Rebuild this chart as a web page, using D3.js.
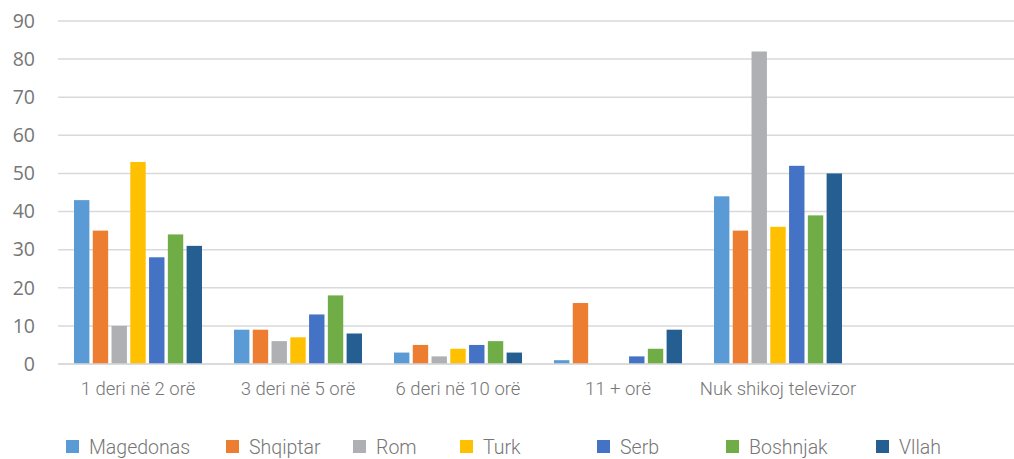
<!DOCTYPE html>
<html><head><meta charset="utf-8">
<script src="https://cdn.jsdelivr.net/npm/d3@7"></script>
<style>html,body{margin:0;padding:0;background:#fff;overflow:hidden}</style>
</head><body>
<svg id="c" width="1014" height="459"></svg>
<script>
const categories = ["1 deri në 2 orë", "3 deri në 5 orë", "6 deri në 10 orë", "11 + orë", "Nuk shikoj televizor", ""];
const seriesNames = ["Magedonas", "Shqiptar", "Rom", "Turk", "Serb", "Boshnjak", "Vllah"];
const magedonas = [43, 9, 3, 1, 44];
const shqiptar = [35, 9, 5, 16, 35];
const rom = [10, 6, 2, 0, 82];
const turk = [53, 7, 4, 0, 36];
const serb = [28, 13, 5, 2, 52];
const boshnjak = [34, 18, 6, 4, 39];
const vllah = [31, 8, 3, 9, 50];
const yTicks = [0, 10, 20, 30, 40, 50, 60, 70, 80, 90];

const seriesValues = [magedonas, shqiptar, rom, turk, serb, boshnjak, vllah];
const colors = ["#5B9BD5", "#ED7D31", "#AFB0B3", "#FFC000", "#4472C4", "#70AD47", "#255E91"];
const legendOffsets = [66, 226, 353, 460, 597, 726, 876];

const svg = d3.select("#c");
const x0 = d3.scaleBand().domain(categories).range([58, 1018]).paddingInner(0.2).paddingOuter(0.1);
const x1 = d3.scaleBand().domain(seriesNames).range([0, x0.bandwidth()]).paddingInner(0.18).paddingOuter(0);
const y = d3.scaleLinear().domain([0, 90]).range([364, 21]);

// gridlines
svg.append("g").selectAll("line").data(yTicks).join("line")
  .attr("x1", 58).attr("x2", 1014)
  .attr("y1", d => y(d)).attr("y2", d => y(d))
  .attr("stroke", "#d9d9d9").attr("stroke-width", 1.5);

// y labels
svg.append("g").selectAll("text").data(yTicks).join("text")
  .attr("x", 35).attr("y", d => y(d)).attr("dy", "0.35em")
  .attr("text-anchor", "end")
  .attr("font-family", "'Open Sans', sans-serif").attr("font-size", 19.5)
  .attr("fill", "#767676").text(d => d);

// bars
const data = [];
categories.forEach((c, ci) => {
  seriesNames.forEach((s, si) => {
    const v = seriesValues[si][ci];
    if (v !== undefined) data.push({c, s, v, color: colors[si]});
  });
});
svg.append("g").selectAll("rect").data(data).join("rect")
  .attr("x", d => x0(d.c) + x1(d.s))
  .attr("width", x1.bandwidth())
  .attr("y", d => y(d.v))
  .attr("height", d => y(0) - y(d.v))
  .attr("fill", d => d.color);

// baseline
svg.append("line").attr("x1", 58).attr("x2", 1014).attr("y1", y(0)).attr("y2", y(0))
  .attr("stroke", "#d9d9d9").attr("stroke-width", 1.5);

// category labels
svg.append("g").selectAll("text").data(categories).join("text")
  .attr("x", d => x0(d) + x0.bandwidth() / 2).attr("y", 395)
  .attr("text-anchor", "middle")
  .attr("font-family", "Roboto, sans-serif").attr("font-weight", 300).attr("font-size", 18.5)
  .attr("fill", "#767676").text(d => d);

// legend
const lg = svg.append("g").selectAll("g").data(seriesNames).join("g")
  .attr("transform", (d, i) => `translate(${legendOffsets[i]},440)`);
lg.append("rect").attr("width", 13).attr("height", 13).attr("fill", (d, i) => colors[i]);
lg.append("text").attr("x", 23).attr("y", 13.5)
  .attr("font-family", "Roboto, sans-serif").attr("font-weight", 300).attr("font-size", 19.5)
  .attr("fill", "#767676").text(d => d);
</script>
</body></html>
